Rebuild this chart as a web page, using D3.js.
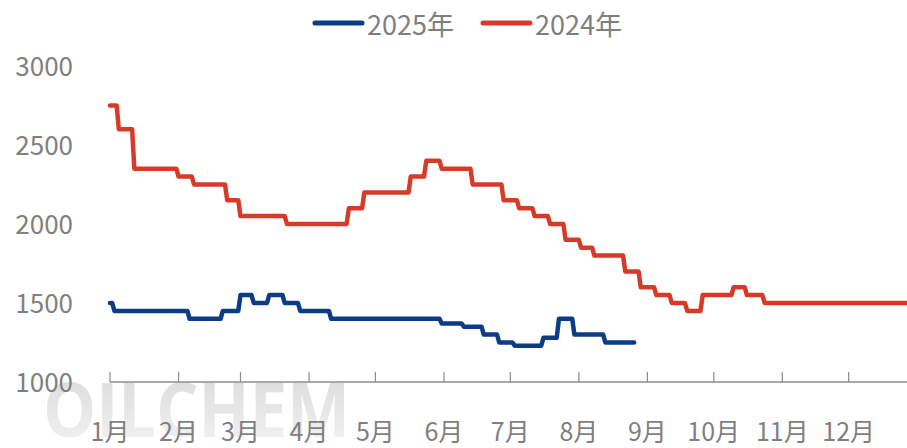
<!DOCTYPE html>
<html>
  <head>
    <meta charset="utf-8">
    <script src="https://d3js.org/d3.v7.min.js"></script>
    <style>
      html, body { margin: 0; padding: 0; background: #fff; }
      text { font-family: "Noto Sans CJK SC", "Noto Sans", sans-serif; fill: #7f7f7f; }
    </style>
  </head>
  <body>
    <div id="chart"></div>
    <script>
      // change points: price level from that day on (month-day)
      const dates2025 = ["01-01","01-03","02-06","02-21","03-01","03-07","03-14","03-21","03-28","04-11",
                         "05-31","06-10","06-19","06-26","07-03","07-16","07-23","07-30","08-13","08-26"];
      const values2025 = [1500,1450,1400,1450,1550,1500,1550,1500,1450,1400,
                          1370,1350,1300,1250,1230,1280,1400,1300,1250,1250];

      const dates2024 = ["01-01","01-05","01-12","02-01","02-08","02-23","03-01","03-22","04-19","04-26",
                         "05-17","05-24","05-31","06-14","06-28","07-05","07-12","07-19","07-26","08-02",
                         "08-08","08-22","08-29","09-05","09-12","09-19","09-26","10-10","10-16","10-24","12-31"];
      const values2024 = [2750,2600,2350,2300,2250,2150,2050,2000,2100,2200,
                          2300,2400,2350,2250,2150,2100,2050,2000,1900,1850,
                          1800,1700,1600,1550,1500,1450,1550,1600,1550,1500,1500];

      const seriesNames = ["2025年", "2024年"];
      const colors = ["#0b3c86", "#d83a2a"];
      const yTicks = [1000, 1500, 2000, 2500, 3000];
      const monthLabels = ["1月","2月","3月","4月","5月","6月","7月","8月","9月","10月","11月","12月"];

      const width = 907, height = 448;
      const parse = d3.timeParse("%Y-%m-%d");
      const day = s => parse("2025-" + s);

      const x = d3.scaleTime()
        .domain([day("01-01"), day("12-31")])
        .range([110, 915]);
      const y = d3.scaleLinear().domain([1000, 3000]).range([382, 66]);

      const svg = d3.select("#chart").append("svg")
        .attr("width", width).attr("height", height);

      // watermark
      const grad = svg.append("defs").append("linearGradient")
        .attr("id", "wm").attr("x1", 0).attr("y1", 0).attr("x2", 0).attr("y2", 1);
      grad.append("stop").attr("offset", "0%").attr("stop-color", "#d6d6d6");
      grad.append("stop").attr("offset", "100%").attr("stop-color", "#f6f6f6");
      svg.append("text")
        .attr("x", 43).attr("y", 437)
        .attr("textLength", 307).attr("lengthAdjust", "spacingAndGlyphs")
        .style("font-family", "'Open Sans', 'Noto Sans', sans-serif")
        .style("font-weight", 700).style("font-size", "76px")
        .style("fill", "url(#wm)")
        .text("OILCHEM");

      // y labels
      svg.append("g").selectAll("text").data(yTicks).join("text")
        .attr("x", 73).attr("y", d => y(d) - 2)
        .attr("text-anchor", "end").attr("dominant-baseline", "central")
        .style("font-size", "26px")
        .text(d => d);

      // x axis
      const months = d3.timeMonth.range(day("01-01"), day("12-31"));
      const xAxis = svg.append("g");
      xAxis.append("line")
        .attr("x1", x.range()[0]).attr("x2", x.range()[1])
        .attr("y1", 382).attr("y2", 382)
        .attr("stroke", "#8c8c8c").attr("stroke-width", 1.5);
      xAxis.selectAll(".tick").data(months).join("line")
        .attr("x1", d => x(d)).attr("x2", d => x(d))
        .attr("y1", 372).attr("y2", 382)
        .attr("stroke", "#8c8c8c").attr("stroke-width", 1.2);
      xAxis.selectAll("text").data(months).join("text")
        .attr("x", d => x(d)).attr("y", 430)
        .attr("text-anchor", "middle").attr("dominant-baseline", "central")
        .style("font-size", "25px")
        .text((d, i) => monthLabels[i]);

      // step lines: hold the old level until the day before each change
      function stepPoints(dates, values) {
        const pts = [[day(dates[0]), values[0]]];
        for (let i = 1; i < dates.length; i++) {
          const t = day(dates[i]);
          pts.push([d3.timeDay.offset(t, -1), values[i - 1]]);
          pts.push([t, values[i]]);
        }
        return pts;
      }

      const line = d3.line().x(d => x(d[0])).y(d => y(d[1]));
      const series = [stepPoints(dates2024, values2024), stepPoints(dates2025, values2025)];
      const order = [1, 0];
      series.forEach((pts, k) => {
        svg.append("path")
          .datum(pts)
          .attr("fill", "none")
          .attr("stroke", colors[order[k]])
          .attr("stroke-width", 4.5)
          .attr("stroke-linejoin", "round")
          .attr("stroke-linecap", "round")
          .attr("d", line);
      });

      // legend
      const legendX = [315, 483];
      seriesNames.forEach((name, i) => {
        const g = svg.append("g").attr("transform", `translate(${legendX[i]},23)`);
        g.append("line").attr("x1", 0).attr("x2", 47)
          .attr("stroke", colors[i]).attr("stroke-width", 5).attr("stroke-linecap", "round");
        g.append("text").attr("x", 52).attr("dominant-baseline", "central")
          .style("font-size", "27px").text(name);
      });
    </script>
  </body>
</html>
